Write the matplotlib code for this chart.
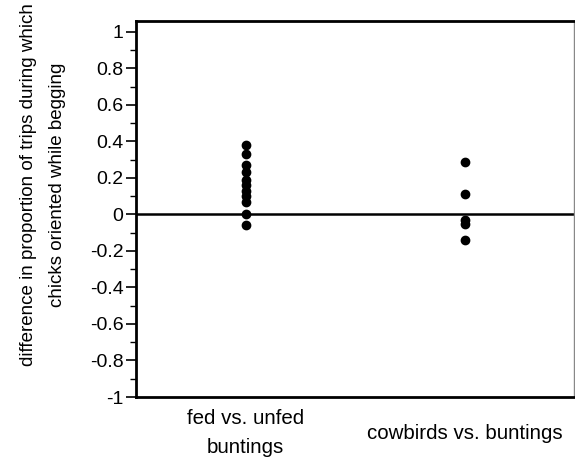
import matplotlib
matplotlib.use("Agg")
import matplotlib.pyplot as plt
from matplotlib.ticker import MultipleLocator

plt.rcParams['font.family'] = ['Liberation Sans', 'DejaVu Sans']

categories = ["fed vs. unfed\nbuntings", "cowbirds vs. buntings"]
fed_vals = [0.38, 0.33, 0.27, 0.23, 0.19, 0.16, 0.13, 0.10, 0.07, 0.00, -0.06]
cow_vals = [0.29, 0.11, -0.03, -0.05, -0.14]
yticks = [1, 0.8, 0.6, 0.4, 0.2, 0, -0.2, -0.4, -0.6, -0.8, -1]
ytick_labels = ["1", "0.8", "0.6", "0.4", "0.2", "0", "-0.2", "-0.4", "-0.6", "-0.8", "-1"]

fig = plt.figure(figsize=(5.75, 4.62), dpi=100)
ax = fig.add_axes([136/575, 1-397/462, (574-136)/575, (397-21)/462])

ax.plot([1]*len(fed_vals), fed_vals, 'o', color='black', markersize=6, linestyle='none')
ax.plot([2]*len(cow_vals), cow_vals, 'o', color='black', markersize=6, linestyle='none')
ax.axhline(0, color='black', linewidth=1.8)

ax.set_xlim(0.5, 2.5)
ax.set_ylim(-1, 1.06)
ax.set_yticks(yticks)
ax.set_yticklabels(ytick_labels, fontsize=14)
ax.yaxis.set_minor_locator(MultipleLocator(0.1))
ax.tick_params(axis='y', which='major', direction='out', length=7, width=1.2, pad=2)
ax.tick_params(axis='y', which='minor', direction='out', length=4, width=1.0)
ax.set_xticks([1, 2])
ax.set_xticklabels(categories, fontsize=14.8, va='center', linespacing=1.7)
ax.tick_params(axis='x', length=0, pad=26)

for s in ['left', 'top', 'bottom']:
    ax.spines[s].set_linewidth(2)
ax.spines['right'].set_linewidth(1)
ax.spines['right'].set_color('#888888')

ax.set_ylabel("difference in proportion of trips during which\nchicks oriented while begging",
              fontsize=13.5, linespacing=1.95, va='center')
ax.yaxis.set_label_coords(-0.212, 0.565)

fig.savefig("out.png", dpi=100)
